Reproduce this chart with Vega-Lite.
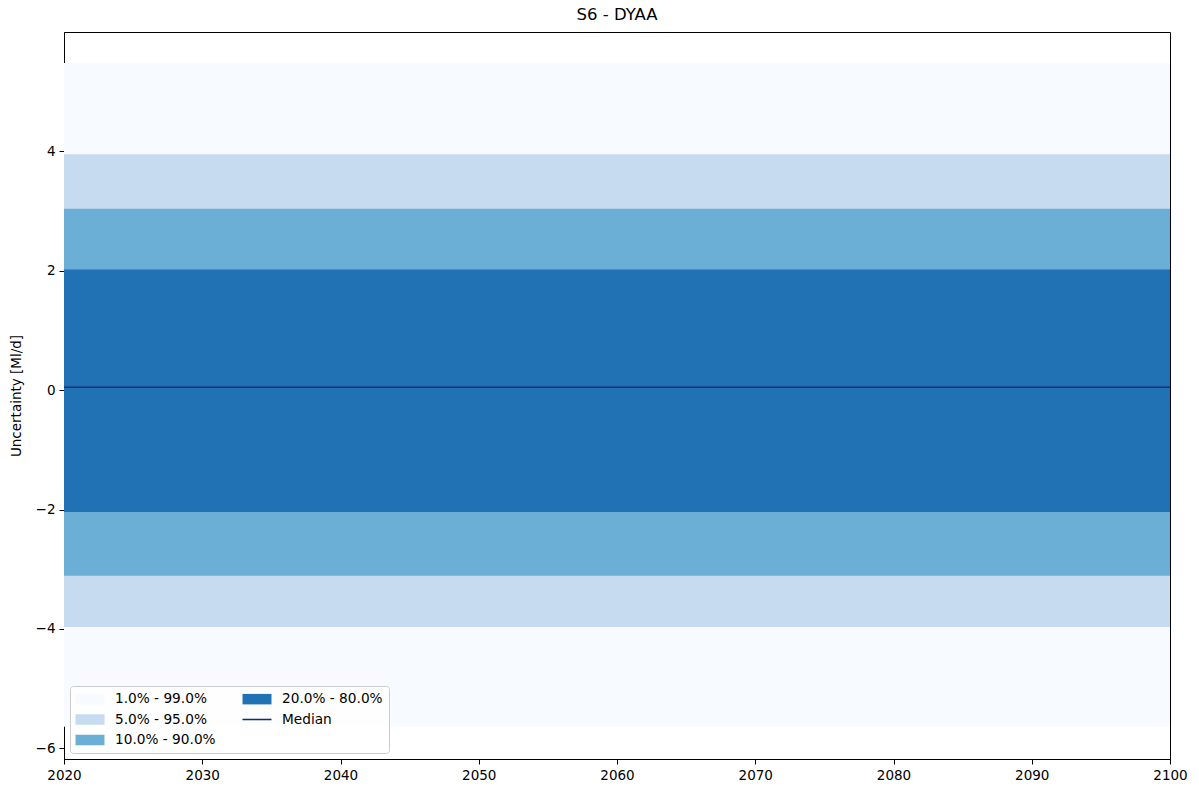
{
  "$schema": "https://vega.github.io/schema/vega-lite/v6.json",
  "width": 1106,
  "height": 727,
  "autosize": {"type": "none"},
  "padding": {"left": 64, "top": 32, "right": 29, "bottom": 28},
  "background": "white",
  "title": {"text": "S6 - DYAA", "fontSize": 16.5, "font": "DejaVu Sans", "fontWeight": "normal", "color": "black", "offset": 9},
  "config": {
    "view": {"stroke": "black", "strokeWidth": 1},
    "font": "DejaVu Sans",
    "axis": {
      "grid": false,
      "domainColor": "black",
      "tickColor": "black",
      "tickSize": 5,
      "labelColor": "black",
      "labelFontSize": 13.5,
      "labelPadding": 4,
      "titleFontSize": 13.5,
      "titleFontWeight": "normal",
      "titleColor": "black"
    }
  },
  "data": {
    "values": [
      {"band": "1.0% - 99.0%", "start": 2020, "end": 2100, "lo": -5.64, "hi": 5.48},
      {"band": "5.0% - 95.0%", "start": 2020, "end": 2100, "lo": -3.97, "hi": 3.95},
      {"band": "10.0% - 90.0%", "start": 2020, "end": 2100, "lo": -3.11, "hi": 3.04},
      {"band": "20.0% - 80.0%", "start": 2020, "end": 2100, "lo": -2.04, "hi": 2.02},
      {"band": "Median", "start": 2020, "end": 2100, "lo": 0.05, "hi": 0.05}
    ]
  },
  "layer": [
    {
      "transform": [{"filter": "datum.band !== 'Median'"}],
      "mark": {"type": "rect", "opacity": 1},
      "encoding": {
        "x": {
          "field": "start", "type": "quantitative", "title": null,
          "scale": {"domain": [2020, 2100], "nice": false},
          "axis": {"values": [2020, 2030, 2040, 2050, 2060, 2070, 2080, 2090, 2100], "format": "d", "labelFlush": false}
        },
        "x2": {"field": "end"},
        "y": {
          "field": "lo", "type": "quantitative", "title": "Uncertainty [Ml/d]",
          "scale": {"domain": [-6.18, 6.0], "nice": false, "zero": false},
          "axis": {"values": [-6, -4, -2, 0, 2, 4], "format": "d", "titlePadding": 12}
        },
        "y2": {"field": "hi"},
        "color": {
          "field": "band", "type": "nominal",
          "scale": {
            "domain": ["1.0% - 99.0%", "5.0% - 95.0%", "10.0% - 90.0%", "20.0% - 80.0%", "Median"],
            "range": ["#f7fbff", "#c6dbef", "#6baed6", "#2171b5", "#08306b"]
          },
          "legend": {
            "title": null,
            "orient": "bottom-left",
            "offset": 6,
            "columns": 2,
            "columnPadding": 26,
            "rowPadding": 6.5,
            "padding": 6,
            "symbolSize": 196,
            "symbolOffset": 7,
            "symbolType": "M-2.07,-0.75H2.07V0.75H-2.07Z",
            "symbolStrokeWidth": 0,
            "symbolOpacity": 1,
            "labelFontSize": 13.7,
            "labelColor": "black",
            "labelOffset": 18,
            "fillColor": "rgba(255,255,255,0.8)",
            "strokeColor": "#cccccc",
            "cornerRadius": 3,
            "encode": {
              "symbols": {
                "update": {
                  "shape": {"signal": "datum.value === 'Median' ? 'M-2.07,-0.11H2.07V0.11H-2.07Z' : 'M-2.07,-0.75H2.07V0.75H-2.07Z'"},
                  "fill": {"scale": "color", "field": "value"},
                  "stroke": {"value": "transparent"},
                  "strokeWidth": {"value": 0},
                  "opacity": {"value": 1}
                }
              }
            }
          }
        }
      }
    },
    {
      "transform": [{"filter": "datum.band === 'Median'"}],
      "mark": {"type": "rule", "strokeWidth": 1.5},
      "encoding": {
        "x": {"field": "start", "type": "quantitative"},
        "x2": {"field": "end"},
        "y": {"field": "lo", "type": "quantitative"},
        "color": {"field": "band", "type": "nominal", "legend": null}
      }
    }
  ]
}
